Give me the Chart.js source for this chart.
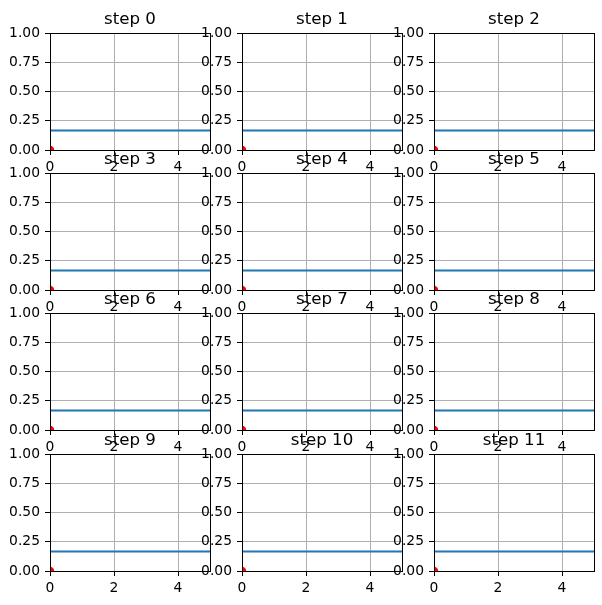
<!DOCTYPE html>
<html>
<head>
<meta charset="utf-8">
<script src="https://cdn.jsdelivr.net/npm/chart.js@4.4.1/dist/chart.umd.min.js"></script>
<style>
  html, body { margin: 0; padding: 0; background: #ffffff; }
  #wrap { position: relative; width: 602px; height: 605px; overflow: hidden; background: #ffffff; }
  canvas { position: absolute; }
</style>
</head>
<body>
<div id="wrap"></div>
<script>
// ---- data ----
const titles = ['step 0', 'step 1', 'step 2', 'step 3', 'step 4', 'step 5',
                'step 6', 'step 7', 'step 8', 'step 9', 'step 10', 'step 11'];
const lineX = [0, 5];
const lineY = [0.1667, 0.1667];
const pointX = [0];
const pointY = [0];
const xTicks = [0, 2, 4];
const yTicks = [0, 0.25, 0.5, 0.75, 1];
const xRange = [0, 5];
const yRange = [0, 1];

// ---- layout ----
const colLeft = [50, 242, 434];
const rowTop = [33, 173, 313, 454];
const AW = 160, AH = 117;
const YW = 50, TH = 33, XH = 30, PR = 10;
const FONT = "'DejaVu Sans', sans-serif";

const frame = {
  id: 'frame',
  afterDraw(chart) {
    const a = chart.chartArea, ctx = chart.ctx;
    ctx.save();
    ctx.strokeStyle = '#000000';
    ctx.lineWidth = 1;
    ctx.strokeRect(Math.round(a.left) + 0.5, Math.round(a.top) + 0.5,
                   Math.round(a.right - a.left), Math.round(a.bottom - a.top));
    ctx.restore();
  }
};

const wrap = document.getElementById('wrap');
titles.forEach((t, i) => {
  const r = Math.floor(i / 3), c = i % 3;
  const cv = document.createElement('canvas');
  cv.width = YW + AW + PR;
  cv.height = TH + AH + XH;
  cv.style.left = (colLeft[c] - YW) + 'px';
  cv.style.top = (rowTop[r] - TH) + 'px';
  cv.style.width = cv.width + 'px';
  cv.style.height = cv.height + 'px';
  wrap.appendChild(cv);
  new Chart(cv, {
    type: 'scatter',
    data: {
      datasets: [
        {
          data: lineX.map((x, k) => ({ x, y: lineY[k] })),
          showLine: true,
          borderColor: '#1f77b4',
          borderWidth: 2,
          pointRadius: 0,
          clip: 0
        },
        {
          data: pointX.map((x, k) => ({ x, y: pointY[k] })),
          pointRadius: 4.2,
          backgroundColor: '#ff0000',
          borderColor: '#ff0000',
          borderWidth: 0,
          clip: 0
        }
      ]
    },
    plugins: [frame],
    options: {
      responsive: false,
      animation: false,
      devicePixelRatio: 1,
      layout: { padding: { left: 0, right: PR, top: 0, bottom: 0 } },
      plugins: {
        legend: { display: false },
        tooltip: { enabled: false },
        title: {
          display: true,
          text: t,
          fullSize: false,
          color: '#000000',
          font: { family: FONT, size: 16.67, weight: 'normal', lineHeight: 1.2 },
          padding: { top: 10, bottom: 3 }
        }
      },
      scales: {
        x: {
          type: 'linear',
          min: xRange[0], max: xRange[1],
          border: { display: false },
          grid: { color: '#b0b0b0', lineWidth: 1, tickColor: '#000000', tickLength: 5, drawTicks: true },
          ticks: { color: '#000000', padding: 4, maxRotation: 0, font: { family: FONT, size: 13.89 },
                   callback: v => String(v) },
          afterBuildTicks: s => { s.ticks = xTicks.map(v => ({ value: v })); },
          afterFit: s => { s.height = XH; s.paddingLeft = 0; s.paddingRight = 0; }
        },
        y: {
          type: 'linear',
          min: yRange[0], max: yRange[1],
          border: { display: false },
          grid: { color: '#b0b0b0', lineWidth: 1, tickColor: '#000000', tickLength: 5, drawTicks: true },
          ticks: { color: '#000000', padding: 5, font: { family: FONT, size: 13.89 },
                   callback: v => Number(v).toFixed(2) },
          afterBuildTicks: s => { s.ticks = yTicks.map(v => ({ value: v })); },
          afterFit: s => { s.width = YW; s.paddingTop = 0; s.paddingBottom = 0; }
        }
      }
    }
  });
});
</script>
</body>
</html>
